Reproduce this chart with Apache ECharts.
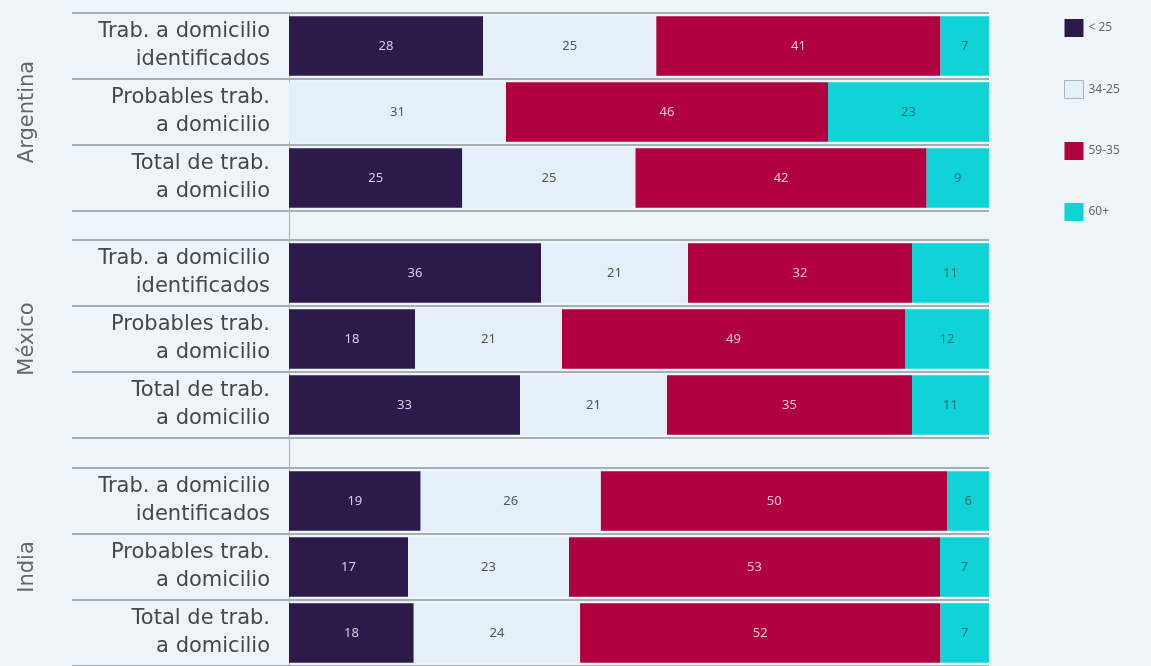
<!DOCTYPE html>
<html>
<head>
<meta charset="utf-8">
<script src="https://cdn.jsdelivr.net/npm/echarts@6/dist/echarts.min.js"></script>
<style>
  html, body { margin: 0; padding: 0; background: #eef5fa; }
  #chart { width: 1151px; height: 666px; }
</style>
</head>
<body>
<div id="chart"></div>
<script>
// data (percent per row)
const categories = ['Trab. a domicilio\nidentificados', 'Probables trab.\na domicilio', 'Total de trab.\na domicilio'];
const countries = ['Argentina', 'México', 'India'];
const groups = ['< 25', '34-25', '59-35', '60+'];
const under25 = [[28, 0, 25], [36, 18, 33], [19, 17, 18]];
const age25to34 = [[25, 31, 25], [21, 21, 21], [26, 23, 24]];
const age35to59 = [[41, 46, 42], [32, 49, 35], [50, 53, 52]];
const age60plus = [[7, 23, 9], [11, 12, 11], [6, 7, 7]];

const groupValues = [under25, age25to34, age35to59, age60plus];
const colors = ['#2c1a4b', '#e4f0f8', '#b1003f', '#0fd3d6'];
const labelColors = ['#d6cfe6', '#555', '#f4c4d2', '#2c6f75'];

const chart = echarts.init(document.getElementById('chart'));

const blockTops = [13, 240, 468];
const blockH = 198;
const lineColor = '#8d979d';

let grids = [], xAxes = [], yAxes = [], series = [];

countries.forEach((country, ci) => {
    grids.push({ left: 289, right: 162, top: blockTops[ci], height: blockH });
    xAxes.push({ gridIndex: ci, type: 'value', min: 0, max: 100, show: false });
    yAxes.push({
        gridIndex: ci,
        type: 'category',
        inverse: true,
        data: categories,
        name: country,
        nameLocation: 'middle',
        nameRotate: 90,
        nameGap: 251,
        nameTextStyle: { color: '#666', fontSize: 21, fontFamily: 'DejaVu Sans' },
        axisLine: { show: true, lineStyle: { color: '#a9b2b7', width: 1 } },
        axisTick: { show: true, length: 217, lineStyle: { color: lineColor, width: 1.5 } },
        splitLine: { show: true, lineStyle: { color: lineColor, width: 1.5 } },
        axisLabel: {
            margin: 19,
            color: '#474747',
            fontSize: 21,
            lineHeight: 28,
            fontFamily: 'DejaVu Sans',
            align: 'right'
        }
    });

    // row sums, used to draw each row as a 100% bar
    const sums = categories.map((c, ri) => groupValues.reduce((s, g) => s + g[ci][ri], 0));

    groups.forEach((g, gi) => {
        series.push({
            name: g,
            type: 'bar',
            xAxisIndex: ci,
            yAxisIndex: ci,
            stack: 'block' + ci,
            barCategoryGap: '10%',
            itemStyle: { color: colors[gi] },
            label: {
                show: true,
                position: 'inside',
                color: labelColors[gi],
                fontSize: 13,
                fontFamily: 'Noto Sans',
                formatter: p => (p.data.raw ? String(p.data.raw) : '')
            },
            data: groupValues[gi][ci].map((v, ri) => ({ value: v / sums[ri] * 100, raw: v }))
        });
    });
});

// thin filler grids so the vertical axis line runs through the blank rows
[[211, 29], [438, 30]].forEach((gp, k) => {
    const idx = countries.length + k;
    grids.push({ left: 289, right: 162, top: gp[0], height: gp[1] });
    xAxes.push({ gridIndex: idx, type: 'value', min: 0, max: 100, show: false });
    yAxes.push({
        gridIndex: idx, type: 'category', data: [''],
        axisLine: { show: true, lineStyle: { color: '#a9b2b7', width: 1 } },
        axisTick: { show: false }, axisLabel: { show: false }, splitLine: { show: false }
    });
});

const option = {
    backgroundColor: '#eef5fa',
    animation: false,
    legend: {
        orient: 'vertical',
        left: 1059,
        top: 14,
        itemWidth: 19,
        itemHeight: 18,
        itemGap: 43,
        icon: 'rect',
        textStyle: { color: '#666', fontSize: 12, fontFamily: 'Noto Sans' },
        data: [
            { name: groups[0] },
            { name: groups[1], itemStyle: { borderColor: '#aab4ba', borderWidth: 1 } },
            { name: groups[2] },
            { name: groups[3] }
        ]
    },
    grid: grids,
    xAxis: xAxes,
    yAxis: yAxes,
    series: series
};

chart.setOption(option);
</script>
</body>
</html>
